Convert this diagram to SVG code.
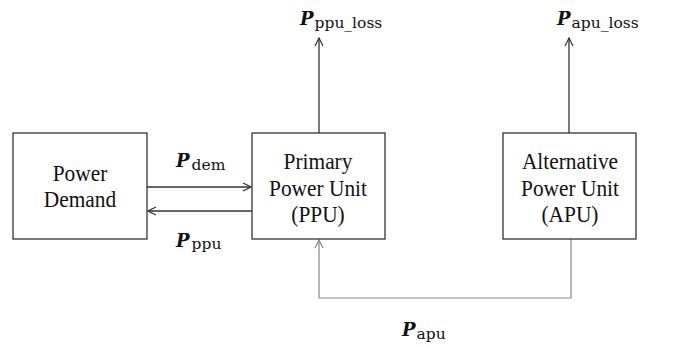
<svg xmlns="http://www.w3.org/2000/svg" width="673" height="347" viewBox="0 0 673 347">
<style>
.box{fill:#fff;stroke:#333;stroke-width:1.3}
.t{font-family:"Liberation Serif",serif;font-size:23.5px;fill:#111;text-anchor:middle}
.ln{fill:none;stroke:#333;stroke-width:1.3}
.g{fill:none;stroke:#888;stroke-width:1.2}
.P{font-family:"DejaVu Serif","Liberation Serif",serif;font-weight:bold;font-style:italic;font-size:18px;fill:#111}
.s{font-family:"DejaVu Serif","Liberation Serif",serif;font-size:15.5px;fill:#111;font-weight:normal;font-style:normal}
</style>
<defs>
<marker id="a" markerWidth="10" markerHeight="10" refX="9" refY="5" orient="auto" markerUnits="userSpaceOnUse"><path d="M1,1 L9,5 L1,9" fill="none" stroke="#333" stroke-width="1.2"/></marker>
<marker id="ag" markerWidth="10" markerHeight="10" refX="9" refY="5" orient="auto" markerUnits="userSpaceOnUse"><path d="M1,1 L9,5 L1,9" fill="none" stroke="#888" stroke-width="1.2"/></marker>
</defs>
<g id="connectors">
<line class="ln" x1="147" y1="187" x2="251" y2="187" marker-end="url(#a)"/>
<line class="ln" x1="252" y1="211" x2="148" y2="211" marker-end="url(#a)"/>
<line class="ln" x1="319" y1="133" x2="319" y2="38" marker-end="url(#a)"/>
<line class="ln" x1="569" y1="133" x2="569" y2="38" marker-end="url(#a)"/>
<polyline class="g" points="571,239 571,298 319,298 319,240" marker-end="url(#ag)"/>
<text class="P" x="176" y="167">P<tspan class="s" dx="2" dy="3">dem</tspan></text>
<text class="P" x="176" y="247">P<tspan class="s" dx="2" dy="2">ppu</tspan></text>
<text class="P" x="300" y="25">P<tspan class="s" dx="1" dy="3">ppu_loss</tspan></text>
<text class="P" x="557" y="25">P<tspan class="s" dx="1" dy="3">apu_loss</tspan></text>
<text class="P" x="402" y="336">P<tspan class="s" dx="1" dy="3">apu</tspan></text>
</g>
<g id="power-demand">
<rect class="box" x="13" y="133" width="134" height="106"/>
<text class="t" transform="translate(80,181) scale(0.91,1)">Power</text>
<text class="t" transform="translate(80,207) scale(0.91,1)">Demand</text>
</g>
<g id="ppu">
<rect class="box" x="252" y="133" width="133" height="106"/>
<text class="t" transform="translate(318,169) scale(0.91,1)">Primary</text>
<text class="t" transform="translate(318,196) scale(0.91,1)">Power Unit</text>
<text class="t" transform="translate(318,222) scale(0.91,1)">(PPU)</text>
</g>
<g id="apu">
<rect class="box" x="503" y="133" width="133" height="106"/>
<text class="t" transform="translate(570,169) scale(0.91,1)">Alternative</text>
<text class="t" transform="translate(570,196) scale(0.91,1)">Power Unit</text>
<text class="t" transform="translate(570,222) scale(0.91,1)">(APU)</text>
</g>
</svg>
